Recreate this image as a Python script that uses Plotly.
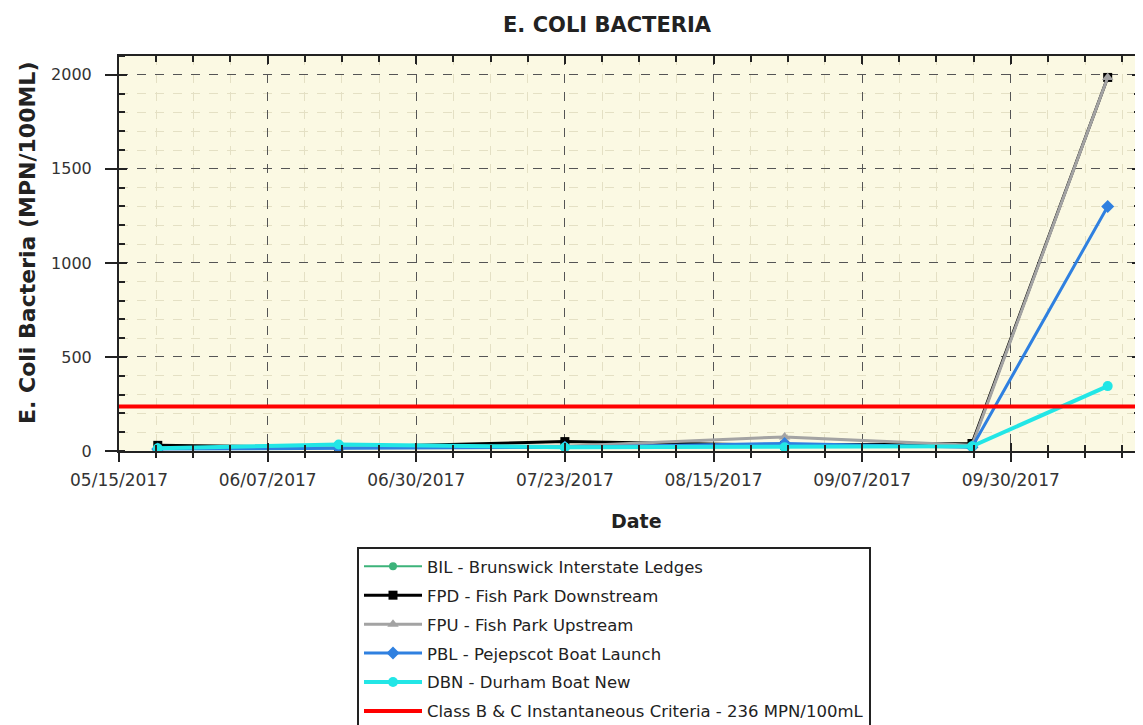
import plotly.graph_objects as go

# ---- data ----
dates = ["2017-05-21", "2017-06-18", "2017-07-23", "2017-08-26", "2017-09-24", "2017-10-15"]
bil = [15, 20, 20, 25, 20, None]
fpd = [30, 20, 50, 30, 40, 1986]
fpu = [15, 25, 25, 75, 30, 1986]
pbl = [10, 15, 20, 40, 20, 1300]
dbn = [15, 35, 20, 20, 25, 345]
criteria_value = 236
x_range = ["2017-05-15", "2017-10-20"]
y_range = [0, 2100]
y_ticks = [0, 500, 1000, 1500, 2000]

names = [
    "BIL - Brunswick Interstate Ledges",
    "FPD - Fish Park Downstream",
    "FPU - Fish Park Upstream",
    "PBL - Pejepscot Boat Launch",
    "DBN - Durham Boat New",
    "Class B & C Instantaneous Criteria - 236 MPN/100mL",
]

FONT = "DejaVu Sans"
fig = go.Figure()

series = [
    (bil, names[0], "#3cb37a", "circle", 8, 2),
    (fpd, names[1], "#000000", "square", 9, 3),
    (fpu, names[2], "#a3a3a3", "triangle-up", 10, 3),
    (pbl, names[3], "#2f80e0", "diamond", 10, 3),
    (dbn, names[4], "#22e6e6", "circle", 10, 4),
]
for i, (vals, nm, col, sym, ms, lw) in enumerate(series):
    fig.add_trace(go.Scatter(
        x=dates, y=vals, name=nm, mode="lines+markers",
        line=dict(color=col, width=lw),
        marker=dict(symbol=sym, size=ms, color=col),
        legendgroup=f"g{i}", connectgaps=False,
    ))

fig.add_trace(go.Scatter(
    x=x_range, y=[criteria_value, criteria_value], name=names[5], mode="lines",
    line=dict(color="#ff0000", width=4), legendgroup="g5",
))

# invisible trace to activate overlay axes (tick crossings)
fig.add_trace(go.Scatter(
    x=x_range, y=[criteria_value, criteria_value], xaxis="x2", yaxis="y2",
    mode="lines", opacity=0, showlegend=False, hoverinfo="skip",
))

# page body has an 8px offset; layout numbers are in figure pixels
OFF = 8
L, R_EDGE, T, B_EDGE = 119 - OFF, 1140 - OFF, 56 - OFF, 451 - OFF
W, H = 1143, 725
PW, PH = R_EDGE - L, B_EDGE - T

def px(xs):  # screen x -> paper
    return (xs - OFF - L) / PW

def py(ys):  # screen y -> paper
    return (B_EDGE - (ys - OFF)) / PH

DAY = 86400000
fig.update_layout(
    width=W, height=H,
    margin=dict(l=L, r=W - R_EDGE, t=T, b=H - B_EDGE, autoexpand=False),
    paper_bgcolor="white",
    plot_bgcolor="#fbf9e3",
    font=dict(family=FONT, size=16, color="#333333"),
    title=dict(text="<b>E. COLI BACTERIA</b>", x=(607 - OFF) / W, xanchor="center",
               y=1 - (25 - OFF) / H, yanchor="middle", yref="container",
               font=dict(family=FONT, size=21, color="#222222")),
    xaxis=dict(
        type="date", range=x_range, tick0="2017-05-15", dtick=23 * DAY,
        tickformat="%m/%d/%Y", ticks="outside", ticklen=9, tickwidth=2,
        tickcolor="#222", showline=True, linecolor="#222", linewidth=2,
        mirror=True, showgrid=True, gridcolor="#555555", griddash="dash",
        gridwidth=1, zeroline=False, ticklabelstandoff=4,
        tickfont=dict(size=17, color="#333333"),
        minor=dict(dtick=5.75 * DAY, tick0="2017-05-15", ticks="outside",
                   ticklen=5, tickwidth=2, tickcolor="#222",
                   showgrid=True, gridcolor="#e4e0c4", griddash="dash", gridwidth=1),
    ),
    yaxis=dict(
        range=y_range, tickvals=y_ticks, ticks="outside", ticklen=12, tickwidth=2,
        tickcolor="#222", showline=True, linecolor="#222", linewidth=2,
        mirror=True, showgrid=True, gridcolor="#555555", griddash="dash",
        gridwidth=1, zeroline=False, ticklabelstandoff=10,
        tickfont=dict(size=16, color="#333333"),
        minor=dict(dtick=100, ticks="inside", ticklen=6, tickwidth=2,
                   tickcolor="#222", showgrid=True, gridcolor="#e4e0c4",
                   griddash="dash", gridwidth=1),
    ),
    xaxis2=dict(
        type="date", matches="x", overlaying="x", anchor="y2",
        tick0="2017-05-15", dtick=23 * DAY, ticks="inside", ticklen=8,
        tickwidth=2, tickcolor="#222", mirror="ticks", showline=True,
        linecolor="#222", linewidth=2, showticklabels=False, showgrid=False,
        zeroline=False,
        minor=dict(dtick=5.75 * DAY, tick0="2017-05-15", ticks="inside",
                   ticklen=6, tickwidth=2, tickcolor="#222", showgrid=False),
    ),
    yaxis2=dict(
        matches="y", overlaying="y", anchor="x2", side="left",
        tickvals=y_ticks, ticks="inside", ticklen=8, tickwidth=2,
        tickcolor="#222", mirror="ticks", showline=True, linecolor="#222",
        linewidth=2, showticklabels=False, showgrid=False, zeroline=False,
        minor=dict(dtick=100, ticks="inside", ticklen=6, tickwidth=2,
                   tickcolor="#222", showgrid=False),
    ),
    legend=dict(
        x=px(357), y=py(547), xanchor="left", yanchor="top",
        bgcolor="white", bordercolor="#222", borderwidth=2,
        traceorder="grouped", tracegroupgap=4.5, itemwidth=58,
        font=dict(family=FONT, size=16.5, color="#222222"),
    ),
    annotations=[
        dict(text="<b>Date</b>", x=px(636), y=py(521),
             xref="paper", yref="paper", xanchor="center", yanchor="middle",
             showarrow=False, font=dict(family=FONT, size=19, color="#222222")),
        dict(text="<b>E. Coli Bacteria (MPN/100ML)</b>", x=px(27),
             y=py(243), xref="paper", yref="paper", textangle=-90,
             xanchor="center", yanchor="middle", showarrow=False,
             font=dict(family=FONT, size=22, color="#222222")),
    ],
)

fig.write_html("out.html")
